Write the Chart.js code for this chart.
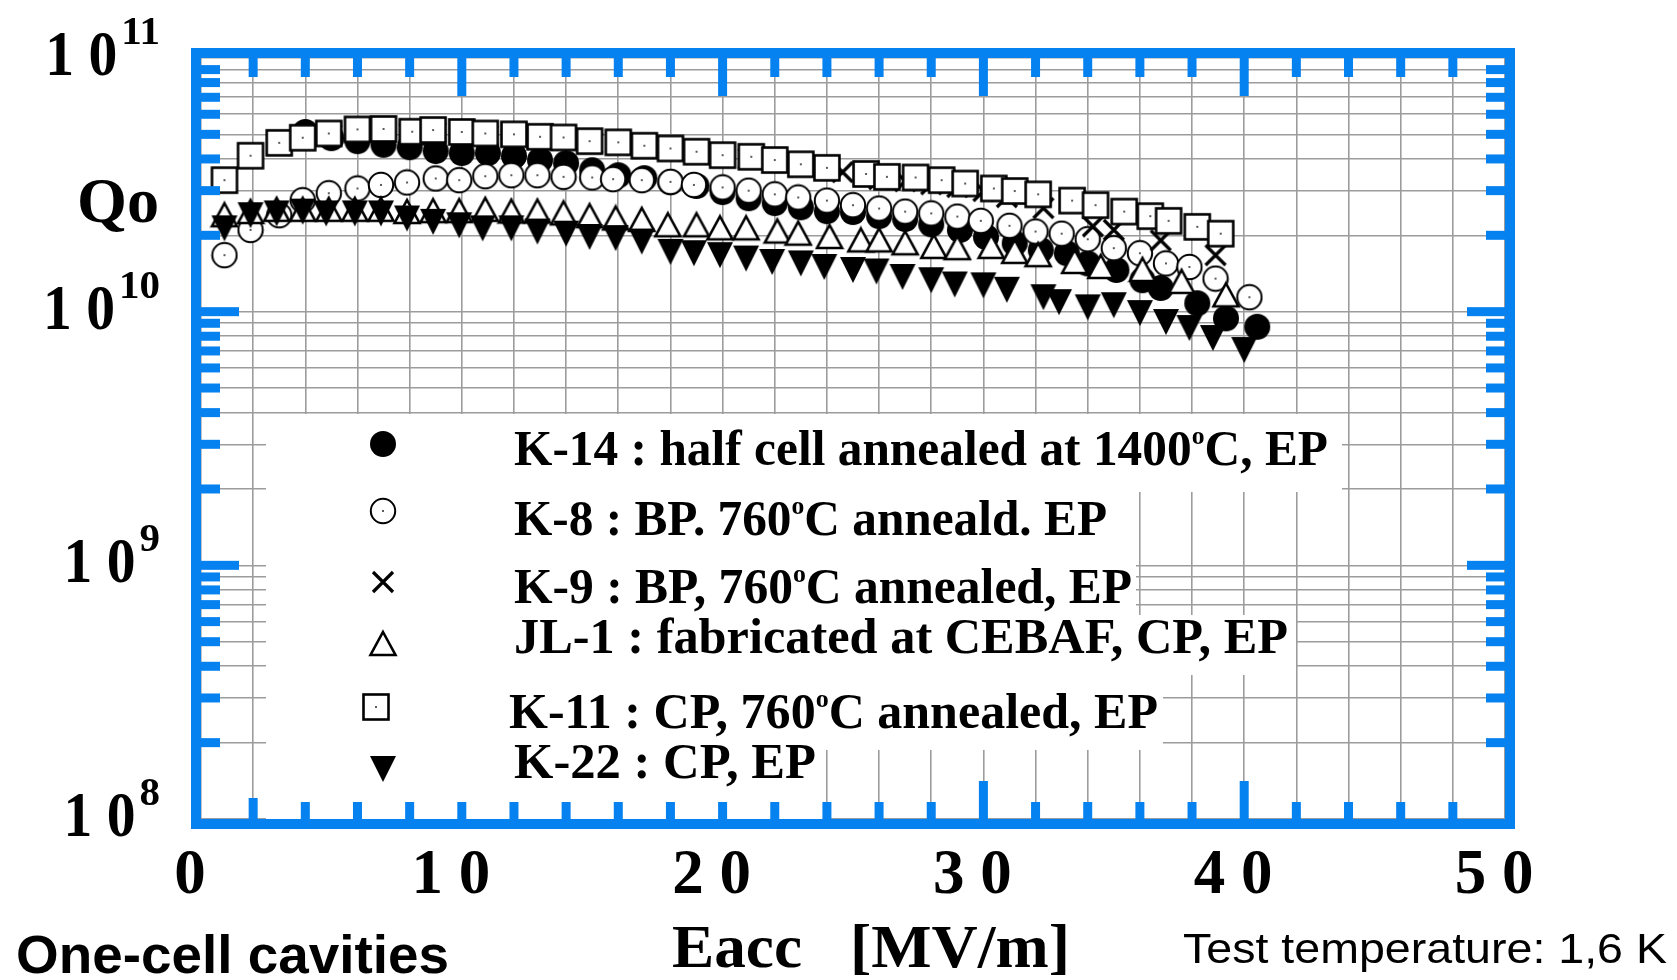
<!DOCTYPE html>
<html>
<head>
<meta charset="utf-8">
<script src="https://cdn.jsdelivr.net/npm/chart.js@4.4.0/dist/chart.umd.min.js"></script>
<style>
  html, body { margin: 0; padding: 0; background: #fff; }
</style>
</head>
<body>
<canvas id="c" width="1677" height="980"></canvas>
<script>
// ---- data (Eacc in MV/m, Qo) ----
const k14E = [4.0, 5.0, 6.0, 7.0, 8.0, 9.0, 10.0, 11.0, 12.0, 13.0, 14.0, 15.0, 16.0, 17.0, 18.0, 19.0, 20.0, 21.0, 22.0, 23.0, 24.0, 25.0, 26.0, 27.0, 28.0, 29.1, 30.1, 31.2, 32.2, 33.2, 34.0, 35.1, 36.1, 36.8, 38.2, 39.3, 40.5];
const k14Q = [5.11e10, 4.83e10, 4.70e10, 4.55e10, 4.45e10, 4.30e10, 4.22e10, 4.22e10, 4.11e10, 3.96e10, 3.85e10, 3.61e10, 3.45e10, 3.36e10, 3.24e10, 3.13e10, 2.96e10, 2.80e10, 2.68e10, 2.58e10, 2.49e10, 2.47e10, 2.38e10, 2.32e10, 2.21e10, 2.10e10, 1.97e10, 1.86e10, 1.75e10, 1.70e10, 1.55e10, 1.46e10, 1.33e10, 1.24e10, 1.08e10, 9.41e9, 8.72e9];

const k8E = [0.9, 1.9, 3.0, 3.9, 4.9, 6.0, 6.9, 7.9, 9.0, 9.9, 10.9, 11.9, 12.9, 13.9, 15.0, 15.8, 16.9, 18.0, 18.9, 20.0, 21.0, 22.0, 22.9, 24.0, 25.0, 26.0, 27.0, 28.0, 29.0, 29.9, 31.0, 32.0, 33.0, 34.0, 35.0, 36.0, 37.0, 37.9, 38.9, 40.2];
const k8Q = [1.67e10, 2.10e10, 2.40e10, 2.75e10, 2.93e10, 3.06e10, 3.16e10, 3.23e10, 3.35e10, 3.30e10, 3.42e10, 3.45e10, 3.45e10, 3.40e10, 3.38e10, 3.33e10, 3.30e10, 3.25e10, 3.16e10, 3.09e10, 3.00e10, 2.90e10, 2.82e10, 2.74e10, 2.63e10, 2.55e10, 2.48e10, 2.44e10, 2.37e10, 2.28e10, 2.18e10, 2.07e10, 2.03e10, 1.93e10, 1.78e10, 1.70e10, 1.55e10, 1.50e10, 1.35e10, 1.14e10];

const k9E = [5, 6, 7, 8, 9, 10, 11, 12, 13, 14, 15, 16, 17, 18, 19, 20, 21, 22, 23, 24.6, 26, 27, 28, 29, 30.0, 30.9, 32.3, 34.2, 35.0, 36.8, 38.9];
const k9Q = [4.97e10, 5.15e10, 5.15e10, 5.04e10, 5.08e10, 5.01e10, 4.95e10, 4.91e10, 4.80e10, 4.77e10, 4.62e10, 4.56e10, 4.43e10, 4.32e10, 4.19e10, 4.07e10, 4.01e10, 3.89e10, 3.74e10, 3.55e10, 3.33e10, 3.27e10, 3.18e10, 3.10e10, 2.99e10, 2.83e10, 2.56e10, 2.17e10, 2.10e10, 1.91e10, 1.67e10];

const jl1E = [0.9, 1.9, 2.9, 3.9, 4.9, 5.9, 6.9, 7.9, 8.9, 9.9, 10.9, 11.9, 12.9, 13.9, 14.9, 15.9, 16.9, 17.9, 19.0, 19.9, 20.9, 22.1, 22.9, 24.1, 25.3, 26.0, 27.0, 28.1, 29.0, 30.3, 31.2, 32.1, 33.5, 34.5, 36.1, 37.6, 39.3];
const jl1Q = [2.40e10, 2.47e10, 2.52e10, 2.52e10, 2.52e10, 2.52e10, 2.52e10, 2.47e10, 2.49e10, 2.49e10, 2.52e10, 2.48e10, 2.48e10, 2.44e10, 2.38e10, 2.33e10, 2.30e10, 2.19e10, 2.19e10, 2.13e10, 2.13e10, 2.07e10, 2.03e10, 1.97e10, 1.91e10, 1.91e10, 1.86e10, 1.80e10, 1.78e10, 1.80e10, 1.72e10, 1.67e10, 1.57e10, 1.50e10, 1.46e10, 1.31e10, 1.16e10];

const k11E = [0.9, 1.9, 3.0, 3.9, 4.9, 6.0, 7.0, 8.1, 8.9, 10.0, 10.9, 12.0, 13.0, 13.9, 14.9, 16.0, 17.0, 18.0, 19.0, 20.0, 21.1, 22.0, 23.0, 24.0, 25.5, 26.3, 27.4, 28.4, 29.3, 30.4, 31.2, 32.1, 33.4, 34.3, 35.4, 36.4, 37.1, 38.2, 39.1];
const k11Q = [3.30e10, 4.12e10, 4.63e10, 4.85e10, 5.04e10, 5.23e10, 5.25e10, 5.12e10, 5.20e10, 5.11e10, 5.04e10, 5.00e10, 4.89e10, 4.86e10, 4.70e10, 4.65e10, 4.51e10, 4.40e10, 4.27e10, 4.14e10, 4.08e10, 3.96e10, 3.81e10, 3.69e10, 3.49e10, 3.40e10, 3.38e10, 3.30e10, 3.20e10, 3.06e10, 2.99e10, 2.90e10, 2.74e10, 2.63e10, 2.48e10, 2.38e10, 2.28e10, 2.16e10, 2.03e10];

const k22E = [0.9, 1.9, 2.9, 3.9, 4.8, 5.9, 6.9, 7.9, 8.9, 9.9, 10.8, 11.9, 12.9, 14.0, 14.9, 15.9, 16.9, 18.0, 18.9, 19.9, 20.9, 21.9, 23.0, 23.9, 25.0, 25.9, 26.9, 28.0, 28.9, 30.0, 30.9, 32.3, 32.9, 34.0, 35.0, 36.0, 37.0, 37.9, 38.8, 40.0];
const k22Q = [2.13e10, 2.40e10, 2.44e10, 2.48e10, 2.44e10, 2.44e10, 2.44e10, 2.33e10, 2.26e10, 2.19e10, 2.13e10, 2.13e10, 2.07e10, 2.03e10, 1.97e10, 1.95e10, 1.89e10, 1.72e10, 1.70e10, 1.67e10, 1.62e10, 1.57e10, 1.55e10, 1.50e10, 1.46e10, 1.44e10, 1.37e10, 1.33e10, 1.28e10, 1.27e10, 1.22e10, 1.14e10, 1.09e10, 1.04e10, 1.06e10, 9.87e9, 9.10e9, 8.62e9, 7.87e9, 7.06e9];

const legendLabels = [
  'K-14 : half cell annealed at 1400^oC, EP',
  'K-8 : BP. 760^oC anneald. EP',
  'K-9 : BP, 760^oC annealed, EP',
  'JL-1 : fabricated at CEBAF, CP, EP',
  'K-11 : CP, 760^oC annealed, EP',
  'K-22 : CP, EP'
];

// ticks
const xTickLabels = ['0', '1 0', '2 0', '3 0', '4 0', '5 0'];
const xMinor = [2, 4, 6, 8, 10, 12, 14, 16, 18, 20, 22, 24, 26, 28, 30, 32, 34, 36, 38, 40, 42, 44, 46, 48];
const xLongTop = [10, 20, 30, 40];
const xLongBottom = [30, 40];
const yDecades = [1e8, 1e9, 1e10, 1e11];
const yExps = ['8', '9', '10', '11'];
const yMult = [1, 2, 3, 4, 5, 6, 7, 8, 9];

const BLUE = '#0582f0';
const GRID = '#9c9c9c';
const SERIF = '"Liberation Serif", "Times New Roman", serif';
const SANS = '"Liberation Sans", Arial, sans-serif';

const yGrid = [];
yDecades.forEach(d => yMult.forEach(m => { if (d * m <= 1e11) yGrid.push(d * m); }));

// marker images
function mk(size, draw) {
  const c = document.createElement('canvas');
  c.width = size; c.height = size;
  draw(c.getContext('2d'), size / 2);
  return c;
}
const imgFilled = mk(28, (g, h) => { g.fillStyle = '#000'; g.beginPath(); g.arc(h, h, 13, 0, Math.PI * 2); g.fill(); });
const imgOpen = mk(28, (g, h) => {
  g.fillStyle = '#fff'; g.strokeStyle = '#000'; g.lineWidth = 2;
  g.beginPath(); g.arc(h, h, 12.2, 0, Math.PI * 2); g.fill(); g.stroke();
  g.fillStyle = '#000'; g.fillRect(h - 0.8, h - 0.8, 1.6, 1.6);
});
const imgSquare = mk(30, (g, h) => {
  g.fillStyle = '#fff'; g.strokeStyle = '#000'; g.lineWidth = 2.6;
  g.fillRect(h - 12.5, h - 12.5, 25, 25); g.strokeRect(h - 12.5, h - 12.5, 25, 25);
  g.fillStyle = '#000'; g.fillRect(h - 0.8, h - 0.8, 1.6, 1.6);
});
const imgTri = mk(30, (g, h) => {
  g.fillStyle = '#fff'; g.strokeStyle = '#000'; g.lineWidth = 2.6; g.lineJoin = 'miter';
  g.beginPath(); g.moveTo(h, 3); g.lineTo(h + 12.5, 26); g.lineTo(h - 12.5, 26); g.closePath();
  g.fill(); g.stroke();
});
const imgDown = mk(30, (g, h) => {
  g.fillStyle = '#000';
  g.beginPath(); g.moveTo(h - 13, 2); g.lineTo(h + 13, 2); g.lineTo(h, 28); g.closePath(); g.fill();
});
const imgCross = mk(28, (g, h) => {
  g.strokeStyle = '#000'; g.lineWidth = 3.2;
  g.beginPath(); g.moveTo(h - 10, h - 10); g.lineTo(h + 10, h + 10);
  g.moveTo(h + 10, h - 10); g.lineTo(h - 10, h + 10); g.stroke();
});

function pts(xs, ys) { return xs.map((x, i) => ({ x: x, y: ys[i] })); }

// text fitted to a width (the original lettering is condensed)
function fitText(ctx, parts, x, y, w, align) {
  let total = 0;
  parts.forEach(p => { ctx.font = p[1]; total += ctx.measureText(p[0]).width; });
  const sx = w ? w / total : 1;
  const x0 = align === 'right' ? x - total * sx : x;
  ctx.save();
  ctx.translate(x0, y);
  ctx.scale(sx, 1);
  ctx.textAlign = 'left';
  ctx.textBaseline = 'alphabetic';
  let cx = 0;
  parts.forEach(p => { ctx.font = p[1]; ctx.fillText(p[0], cx, p[2] || 0); cx += ctx.measureText(p[0]).width; });
  ctx.restore();
}

// legend layout
const legendRows = [
  { img: imgFilled, sx: 383, sy: 444, tx: 514, ty: 465, w: 814 },
  { img: imgOpen,   sx: 383, sy: 511, tx: 514, ty: 535, w: 593 },
  { img: imgCross,  sx: 383, sy: 582, tx: 514, ty: 603, w: 618 },
  { img: imgTri,    sx: 383, sy: 644, tx: 514, ty: 653, w: 774 },
  { img: imgSquare, sx: 376, sy: 707, tx: 509, ty: 728, w: 649 },
  { img: imgDown,   sx: 383, sy: 769, tx: 514, ty: 778, w: 302 }
];
const legendMask = [
  [266, 414, 1342, 492], [266, 492, 1136, 548], [266, 548, 1136, 615],
  [266, 615, 1296, 675], [266, 675, 1163, 750], [266, 750, 825, 819]
];

const decor = {
  id: 'decor',
  beforeDatasetsDraw(chart) {
    const ctx = chart.ctx;
    ctx.save();
    ctx.fillStyle = '#fff';
    legendMask.forEach(r => ctx.fillRect(r[0], r[1], r[2] - r[0], r[3] - r[1]));
    ctx.restore();
  },
  afterDraw(chart) {
    const ctx = chart.ctx;
    const a = chart.chartArea;
    const xs = chart.scales.x, ys = chart.scales.y;
    ctx.save();

    // legend
    ctx.fillStyle = '#000';
    legendRows.forEach((r, i) => {
      ctx.drawImage(r.img, r.sx - r.img.width / 2, r.sy - r.img.height / 2);
      const bits = legendLabels[i].split('^o');
      const parts = [];
      bits.forEach((b, k) => {
        if (k > 0) parts.push(['o', 'bold 26px ' + SERIF, -21]);
        parts.push([b, 'bold 50px ' + SERIF, 0]);
      });
      fitText(ctx, parts, r.tx, r.ty, r.w);
    });

    // blue ticks
    ctx.fillStyle = BLUE;
    xMinor.forEach(v => {
      const px = xs.getPixelForValue(v);
      const lt = xLongTop.includes(v) ? 38 : 19;
      ctx.fillRect(px - 4.5, a.top, 9, lt);
      const lb = xLongBottom.includes(v) ? 38 : (v === 2 ? 21 : 17);
      ctx.fillRect(px - 4.5, a.bottom - lb, 9, lb);
    });
    yGrid.forEach(v => {
      if (v <= 1e8 || v >= 1e11) return;
      const py = ys.getPixelForValue(v);
      const len = yDecades.includes(v) ? 38 : 19;
      ctx.fillRect(a.left, py - 4.5, len, 9);
      ctx.fillRect(a.right - len, py - 4.5, len, 9);
    });

    // frame
    ctx.strokeStyle = BLUE;
    ctx.lineWidth = 10;
    ctx.strokeRect(a.left - 5, a.top - 5, a.right - a.left + 10, a.bottom - a.top + 10);

    // y labels 10^n
    ctx.fillStyle = '#000';
    yDecades.forEach((d, i) => {
      const py = ys.getPixelForValue(d);
      ctx.font = 'bold 41px ' + SERIF;
      const sw = ctx.measureText(yExps[i]).width;
      ctx.textAlign = 'right';
      ctx.fillText(yExps[i], 160, py - 14);
      fitText(ctx, [['1 0', 'bold 64px ' + SERIF, 0]], 160 - sw - 4, py + 17, 72, 'right');
    });

    // titles
    fitText(ctx, [['Qo', 'bold 64px ' + SERIF, 0]], 77, 222, 82);
    fitText(ctx, [['Eacc', 'bold 62px ' + SERIF, 0]], 672, 967, 130);
    fitText(ctx, [['[MV/m]', 'bold 62px ' + SERIF, 0]], 850, 967, 220);
    fitText(ctx, [['One-cell cavities', 'bold 54px ' + SANS, 0]], 16, 973, 433);
    fitText(ctx, [['Test temperature: 1,6 K', '42px ' + SANS, 0]], 1183, 963, 484);
    ctx.restore();
  }
};

function ds(label, xs, ys, img, order) {
  return {
    label: label,
    data: pts(xs, ys),
    pointStyle: img,
    pointRadius: 12,
    pointHoverRadius: 12,
    showLine: false,
    order: order
  };
}

new Chart(document.getElementById('c'), {
  type: 'scatter',
  data: {
    datasets: [
      ds('K-22', k22E, k22Q, imgDown, 0),
      ds('K-11', k11E, k11Q, imgSquare, 1),
      ds('JL-1', jl1E, jl1Q, imgTri, 2),
      ds('K-9', k9E, k9Q, imgCross, 3),
      ds('K-8', k8E, k8Q, imgOpen, 4),
      ds('K-14', k14E, k14Q, imgFilled, 5)
    ]
  },
  options: {
    responsive: false,
    animation: false,
    events: [],
    layout: { padding: { top: 58, right: 172, left: 0, bottom: 0 } },
    plugins: { legend: { display: false }, tooltip: { enabled: false } },
    scales: {
      x: {
        type: 'linear',
        min: 0,
        max: 50,
        border: { display: false },
        grid: { color: GRID, lineWidth: 1.6, drawTicks: false },
        ticks: {
          stepSize: 2,
          autoSkip: false,
          maxRotation: 0,
          padding: 20,
          labelOffset: -11,
          color: '#000',
          font: { family: SERIF, weight: 'bold', size: 63 },
          callback: v => (v % 10 === 0 ? xTickLabels[v / 10] : '')
        },
        afterFit: s => { s.height = 161; }
      },
      y: {
        type: 'logarithmic',
        min: 1e8,
        max: 1e11,
        border: { display: false },
        grid: { color: GRID, lineWidth: 1.6, drawTicks: false },
        ticks: { display: false },
        afterBuildTicks: s => { s.ticks = yGrid.map(v => ({ value: v })); },
        afterFit: s => { s.width = 201; }
      }
    }
  },
  plugins: [decor]
});
</script>
</body>
</html>
